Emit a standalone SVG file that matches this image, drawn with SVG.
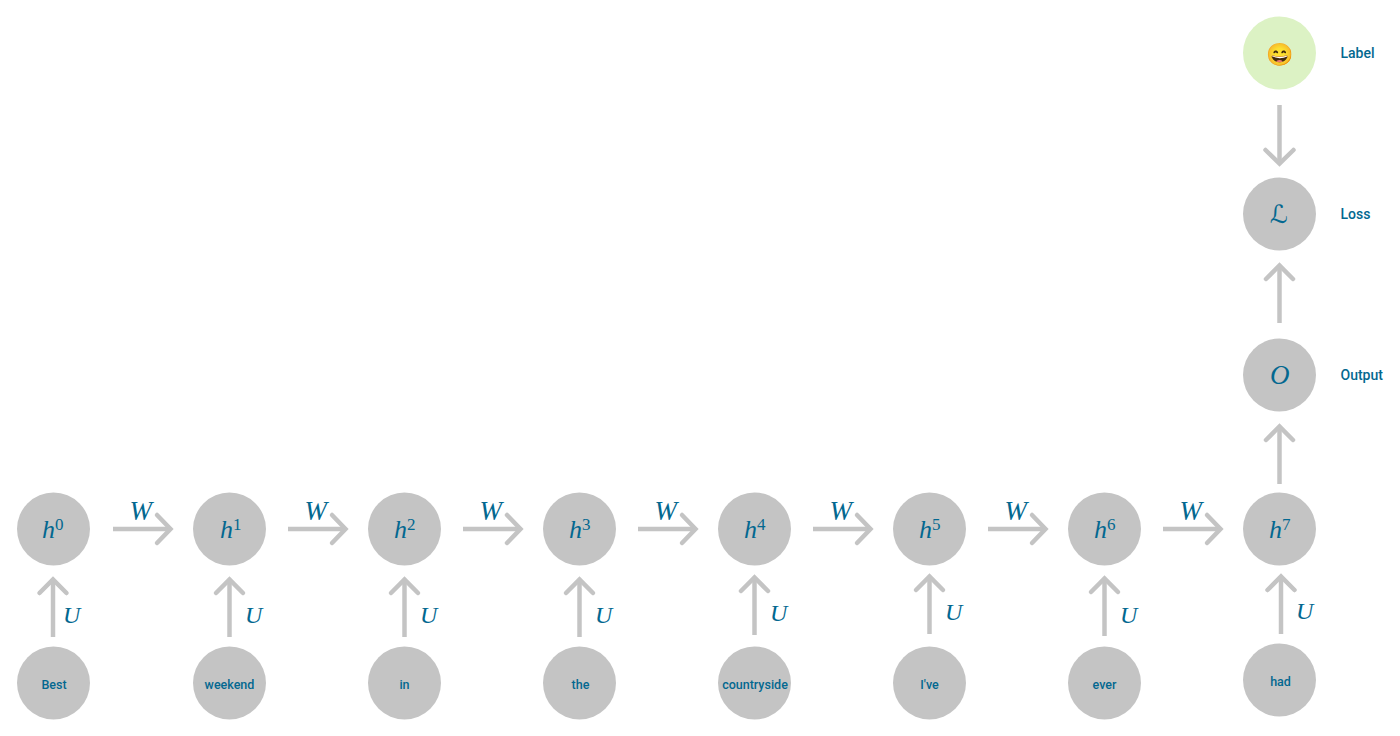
<svg xmlns="http://www.w3.org/2000/svg" xmlns:xlink="http://www.w3.org/1999/xlink" width="1400" height="736" viewBox="0 0 1400 736">
<style>
.n{fill:#c4c4c4}
.g{fill:#dcf2c4}
.a{fill:none;stroke:#c4c4c4;stroke-width:4.5}
.h{fill:none;stroke:#c4c4c4;stroke-width:4.5;stroke-linecap:round;stroke-linejoin:miter}
text{fill:#036890}
.t{font:500 12.500px Roboto,"Liberation Sans",sans-serif;text-anchor:middle}
.s{font:500 14px Roboto,"Liberation Sans",sans-serif}
.m{font:italic 26px "Liberation Serif",serif}
.w{font:italic 27px "Liberation Serif",serif}
.v{font:italic 24px "Liberation Serif",serif}
.u{font:17px "Liberation Serif",serif}
</style>
<defs>
<g id="ar"><path class="a" d="M0 0H57"/><path class="h" d="M44 -14L57.500 0L44 14"/></g>
<g id="au"><path class="a" d="M0 0V-57"/><path class="h" d="M-13.500 -44L0 -57.500L13.500 -44"/></g>
</defs>
<g id="connectors">
<use xlink:href="#ar" x="113" y="529"/><use xlink:href="#ar" x="288" y="529"/><use xlink:href="#ar" x="463" y="529"/><use xlink:href="#ar" x="638" y="529"/><use xlink:href="#ar" x="813" y="529"/><use xlink:href="#ar" x="988" y="529"/><use xlink:href="#ar" x="1163" y="529"/>
<use xlink:href="#au" x="53" y="637"/><use xlink:href="#au" x="229.500" y="637"/><use xlink:href="#au" x="404.500" y="637"/><use xlink:href="#au" x="579.500" y="637"/><use xlink:href="#au" x="754.500" y="635"/><use xlink:href="#au" x="929.500" y="634"/><use xlink:href="#au" x="1104.500" y="636"/><use xlink:href="#au" x="1281" y="634"/>
<use xlink:href="#au" x="1279.500" y="484"/><use xlink:href="#au" x="1279.500" y="323"/>
<path class="a" d="M1279.500 105V163"/><path class="h" d="M1265.500 150L1279.500 163.500L1293.500 150"/>
<g class="w">
<text x="129.500" y="520">W</text><text x="304.500" y="520">W</text><text x="479.500" y="520">W</text><text x="654.500" y="520">W</text><text x="829.500" y="520">W</text><text x="1004.500" y="520">W</text><text x="1179.500" y="520">W</text>
</g>
<g class="v">
<text x="63" y="623">U</text><text x="245" y="623">U</text><text x="420" y="623">U</text><text x="595" y="623">U</text><text x="770" y="621">U</text><text x="945" y="620">U</text><text x="1120" y="623">U</text><text x="1296" y="619">U</text>
</g>
</g>
<g id="h0"><circle class="n" cx="53.500" cy="529" r="36.500"/><text class="m" x="42" y="538">h</text><text class="u" x="55" y="530">0</text></g>
<g id="h1"><circle class="n" cx="229.500" cy="529" r="36.500"/><text class="m" x="220" y="538">h</text><text class="u" x="233" y="530">1</text></g>
<g id="h2"><circle class="n" cx="404.500" cy="529" r="36.500"/><text class="m" x="394" y="538">h</text><text class="u" x="407" y="530">2</text></g>
<g id="h3"><circle class="n" cx="579.500" cy="529" r="36.500"/><text class="m" x="569" y="538">h</text><text class="u" x="582" y="530">3</text></g>
<g id="h4"><circle class="n" cx="754.500" cy="529" r="36.500"/><text class="m" x="744" y="538">h</text><text class="u" x="757" y="530">4</text></g>
<g id="h5"><circle class="n" cx="929.500" cy="529" r="36.500"/><text class="m" x="919" y="538">h</text><text class="u" x="932" y="530">5</text></g>
<g id="h6"><circle class="n" cx="1104.500" cy="529" r="36.500"/><text class="m" x="1094" y="538">h</text><text class="u" x="1107" y="530">6</text></g>
<g id="h7"><circle class="n" cx="1279.500" cy="529" r="36.500"/><text class="m" x="1269" y="538">h</text><text class="u" x="1282" y="530">7</text></g>
<g id="best"><circle class="n" cx="53.500" cy="683" r="36.500"/><text class="t" x="54" y="688.500">Best</text></g>
<g id="weekend"><circle class="n" cx="229.500" cy="683" r="36.500"/><text class="t" x="229.500" y="688.500">weekend</text></g>
<g id="in"><circle class="n" cx="404.500" cy="683" r="36.500"/><text class="t" x="404.500" y="688.500">in</text></g>
<g id="the"><circle class="n" cx="579.500" cy="683" r="36.500"/><text class="t" x="580.500" y="688.500">the</text></g>
<g id="countryside"><circle class="n" cx="754.500" cy="683" r="36.500"/><text class="t" x="755" y="688.500">countryside</text></g>
<g id="ive"><circle class="n" cx="929.500" cy="683" r="36.500"/><text class="t" x="929.500" y="688.500">I've</text></g>
<g id="ever"><circle class="n" cx="1104.500" cy="683" r="36.500"/><text class="t" x="1104.500" y="688.500">ever</text></g>
<g id="had"><circle class="n" cx="1279.500" cy="680" r="36.500"/><text class="t" x="1280.500" y="685.500">had</text></g>
<g id="output"><circle class="n" cx="1279.500" cy="375" r="36.500"/><text class="m" x="1270" y="384" style="font-size:27px">O</text><text class="s" x="1340.500" y="379.500">Output</text></g>
<g id="loss"><circle class="n" cx="1279.500" cy="214" r="36.500"/><text x="1270" y="223" style="font:25px 'DejaVu Sans',sans-serif">ℒ</text><text class="s" x="1340.500" y="218.500">Loss</text></g>
<g id="label"><circle class="g" cx="1279.500" cy="53" r="36.500"/><text x="1280" y="61.500" text-anchor="middle" style="font:22px 'Noto Color Emoji','DejaVu Sans',sans-serif">😄</text><text class="s" x="1340.500" y="57.500">Label</text></g>
</svg>
